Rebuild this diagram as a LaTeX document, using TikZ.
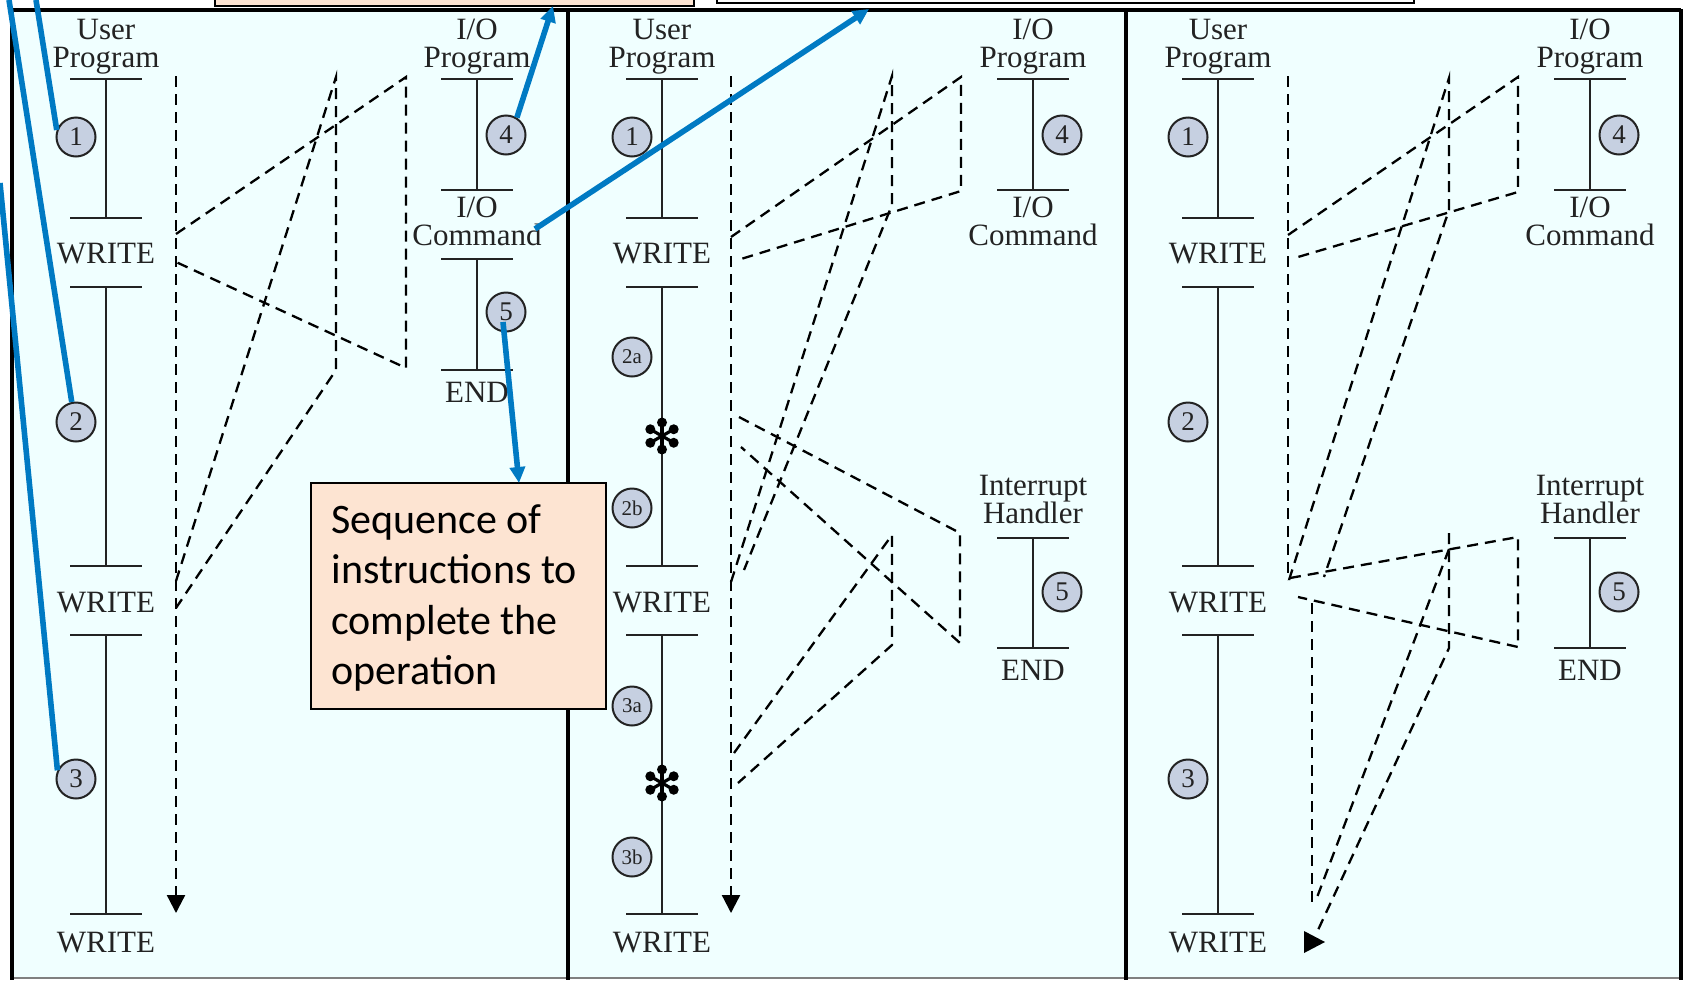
\documentclass[tikz,border=0pt]{standalone}
\usepackage{fontspec}
\setmainfont{Liberation Serif}
\newfontfamily\calloutfont{Carlito}
\usetikzlibrary{arrows.meta}

\definecolor{panelbg}{RGB}{240,255,255}
\definecolor{peach}{RGB}{253,228,210}
\definecolor{callblue}{RGB}{0,122,195}
\definecolor{badgefill}{RGB}{198,208,225}
\definecolor{inkgray}{RGB}{35,35,35}

\begin{document}
\begin{tikzpicture}[x=0.5pt,y=-0.5pt,
  bar/.style={line width=1.3pt, draw=inkgray},
  flow/.style={line width=1.15pt, dash pattern=on 5.5pt off 3.5pt, draw=black},
  flowend/.style={flow, -{Triangle[length=9pt,width=9pt]}},
  badge/.style={circle, draw=inkgray, line width=1pt, fill=badgefill,
    minimum size=19.5pt, inner sep=0pt, font=\fontsize{13.5}{14}\selectfont, text=inkgray},
  smallbadge/.style={badge, font=\fontsize{10.5}{11}\selectfont},
  lbl/.style={inner sep=0pt, anchor=base, font=\fontsize{15.5}{16}\selectfont, text=inkgray},
  callout/.style={line width=2.8pt, draw=callblue},
  calloutarrow/.style={callout, -{Triangle[length=8pt,width=7.5pt]}},
  seqbox/.style={draw=black, line width=0.8pt, fill=peach, minimum width=147.5pt,
    minimum height=113pt, inner sep=0pt},
  seqtext/.style={inner sep=0pt, align=left, font=\calloutfont\fontsize{21}{25.3}\selectfont},
]
\useasboundingbox (0,0) rectangle (1690,980);
\fill[white] (0,0) rectangle (1690,980);

% callout boxes cut by the top edge
\draw[fill=peach, line width=0.9pt] (215,-30) rectangle (694,6);
\draw[fill=white, line width=1pt] (717,-30) rectangle (1414,3);

% the three panels
\fill[panelbg] (12,10) rectangle (1681,978);
\draw[gray, line width=0.8pt] (12,978) -- (1681,978);
\draw[line width=2.2pt] (12,10) -- (1681,10);
\draw[line width=2.4pt] (12,9) -- (12,980);
\draw[line width=2.2pt] (568,9) -- (568,980);
\draw[line width=2.2pt] (1126,9) -- (1126,980);
\draw[line width=2.2pt] (1681,9) -- (1681,980);

% columns shared by all three panels
\foreach \p/\ux/\ix in {1/106/477, 2/662/1033, 3/1218/1590} {
  \node[lbl] (usr\p) at (\ux,39) {User};
  \node[lbl] (usrprog\p) at (\ux,67) {Program};
  \foreach \yy in {79,218,287,566,635,914}
    \draw[bar] ({\ux-36},\yy) -- ({\ux+36},\yy);
  \draw[bar] (\ux,79) -- (\ux,218) (\ux,287) -- (\ux,566) (\ux,635) -- (\ux,914);
  \node[lbl] (wrA\p) at (\ux,263) {WRITE};
  \node[lbl] (wrB\p) at (\ux,612) {WRITE};
  \node[lbl] (wrC\p) at (\ux,952) {WRITE};
  \node[lbl] (iot\p) at (\ix,39) {I/O};
  \node[lbl] (iop\p) at (\ix,67) {Program};
  \draw[bar] ({\ix-36},79) -- ({\ix+36},79) ({\ix-36},190) -- ({\ix+36},190) (\ix,79) -- (\ix,190);
  \node[badge] (four\p) at ({\ix+29},135) {4};
  \node[lbl] (ioc\p) at (\ix,217) {I/O};
  \node[lbl] (cmd\p) at (\ix,245) {Command};
}

% panel 1: no interrupts
\node[badge] (p1b1) at (76,137) {1};
\node[badge] (p1b2) at (76,422) {2};
\node[badge] (p1b3) at (76,779) {3};
\draw[bar] (441,259) -- (513,259) (441,370) -- (513,370) (477,259) -- (477,370);
\node[badge] (five1) at (506,312) {5};
\node[lbl] (end1) at (477,402) {END};

% panels 2 and 3: interrupt handler
\foreach \p/\ix in {2/1033, 3/1590} {
  \node[lbl] (intr\p) at (\ix,495) {Interrupt};
  \node[lbl] (hand\p) at (\ix,523) {Handler};
  \draw[bar] ({\ix-36},538) -- ({\ix+36},538) ({\ix-36},648) -- ({\ix+36},648) (\ix,538) -- (\ix,648);
  \node[badge] (five\p) at ({\ix+29},592) {5};
  \node[lbl] (end\p) at (\ix,680) {END};
}

% panel 2 user program pieces
\node[badge] (p2b1) at (632,137) {1};
\node[smallbadge] (p2b2a) at (632,357) {2a};
\node[smallbadge] (p2b2b) at (632,508) {2b};
\node[smallbadge] (p2b3a) at (632,706) {3a};
\node[smallbadge] (p2b3b) at (632,857) {3b};
\coordinate (astA) at (662,436);
\coordinate (astB) at (662,783);
\foreach \c in {astA, astB} {
  \foreach \a in {30,90,150,210,270,330} {
    \draw[line width=1.6pt] (\c) -- ++(\a:16);
    \fill (\c) ++(\a:13.5) circle[radius=5];
  }
}

% panel 3 user program pieces
\node[badge] (p3b1) at (1188,137) {1};
\node[badge] (p3b2) at (1188,422) {2};
\node[badge] (p3b3) at (1188,779) {3};

% ---- flow of control, panel 1
\coordinate (a-top) at (176,76);
\coordinate (a-bot) at (176,913);
\coordinate (a-w1) at (176,234);
\coordinate (a-r1) at (176,262);
\coordinate (a-io1t) at (406,77);
\coordinate (a-io1b) at (406,368);
\coordinate (a-w2) at (176,581);
\coordinate (a-r2) at (176,608);
\coordinate (a-io2t) at (336,77);
\coordinate (a-io2b) at (336,370);
\draw[flowend] (a-top) -- (a-bot);
\draw[flow] (a-w1) -- (a-io1t) -- (a-io1b) -- (a-r1);
\draw[flow] (a-w2) -- (a-io2t) -- (a-io2b) -- (a-r2);

% ---- flow of control, panel 2
\coordinate (b-top) at (731,76);
\coordinate (b-bot) at (731,913);
\coordinate (b-w1) at (731,237);
\coordinate (b-io1t) at (961,77);
\coordinate (b-io1b) at (961,191);
\coordinate (b-r1) at (741,259);
\coordinate (b-w2) at (731,582);
\coordinate (b-io2t) at (892,76);
\coordinate (b-io2b) at (892,205);
\coordinate (b-r2) at (744,570);
\coordinate (b-i1) at (739,417);
\coordinate (b-h1t) at (960,533);
\coordinate (b-h1b) at (960,643);
\coordinate (b-j1) at (741,447);
\coordinate (b-i2) at (734,753);
\coordinate (b-h2t) at (892,535);
\coordinate (b-h2b) at (892,645);
\coordinate (b-j2) at (738,783);
\draw[flowend] (b-top) -- (b-bot);
\draw[flow] (b-w1) -- (b-io1t) -- (b-io1b) -- (b-r1);
\draw[flow] (b-w2) -- (b-io2t) -- (b-io2b) -- (b-r2);
\draw[flow] (b-i1) -- (b-h1t) -- (b-h1b) -- (b-j1);
\draw[flow] (b-i2) -- (b-h2t) -- (b-h2b) -- (b-j2);

% ---- flow of control, panel 3
\coordinate (c-top) at (1288,76);
\coordinate (c-wait) at (1288,580);
\coordinate (c-w1) at (1288,235);
\coordinate (c-io1t) at (1518,77);
\coordinate (c-io1b) at (1518,192);
\coordinate (c-r1) at (1298,257);
\coordinate (c-w2) at (1289,580);
\coordinate (c-io2t) at (1449,78);
\coordinate (c-io2b) at (1449,210);
\coordinate (c-r2) at (1324,577);
\coordinate (c-i1) at (1290,578);
\coordinate (c-h1t) at (1518,537);
\coordinate (c-h1b) at (1518,647);
\coordinate (c-j1) at (1298,597);
\coordinate (c-x1) at (1449,533);
\coordinate (c-x2) at (1449,648);
\coordinate (c-m) at (1449,549);
\coordinate (c-mend) at (1316,900);
\coordinate (c-nend) at (1318,930);
\coordinate (c-u3) at (1312,603);
\coordinate (c-u3b) at (1312,903);
\draw[flow] (c-top) -- (c-wait);
\draw[flow] (c-w1) -- (c-io1t) -- (c-io1b) -- (c-r1);
\draw[flow] (c-w2) -- (c-io2t) -- (c-io2b) -- (c-r2);
\draw[flow] (c-i1) -- (c-h1t) -- (c-h1b) -- (c-j1);
\draw[flow] (c-x1) -- (c-x2) -- (c-nend);
\draw[flow] (c-m) -- (c-mend);
\draw[flow] (c-u3) -- (c-u3b);
\fill (1304,931) -- (1304,953) -- (1325,942) -- cycle;

% ---- note box
\node[seqbox] (seq) at (458.5,596) {};
\node[seqtext, anchor=west] (seqtxt) at (331,598)
  {Sequence of\\instructions to\\complete the\\operation};

% ---- blue callout lines
\coordinate (k1) at (36,0);
\coordinate (k2) at (9,0);
\coordinate (k3) at (0,183);
\coordinate (k4e) at (553,6);
\coordinate (k5s) at (535,229);
\coordinate (k5e) at (869,9);
\coordinate (k6s) at (503,322);
\coordinate (k6e) at (519,483);
\draw[callout] (k1) -- (p1b1.160);
\draw[callout] (k2) -- (p1b2.102);
\draw[callout] (k3) -- (p1b3.155);
\draw[calloutarrow] (four1.58) -- (k4e);
\draw[calloutarrow] (k5s) -- (k5e);
\draw[calloutarrow] (k6s) -- (k6e);
\end{tikzpicture}
\end{document}
